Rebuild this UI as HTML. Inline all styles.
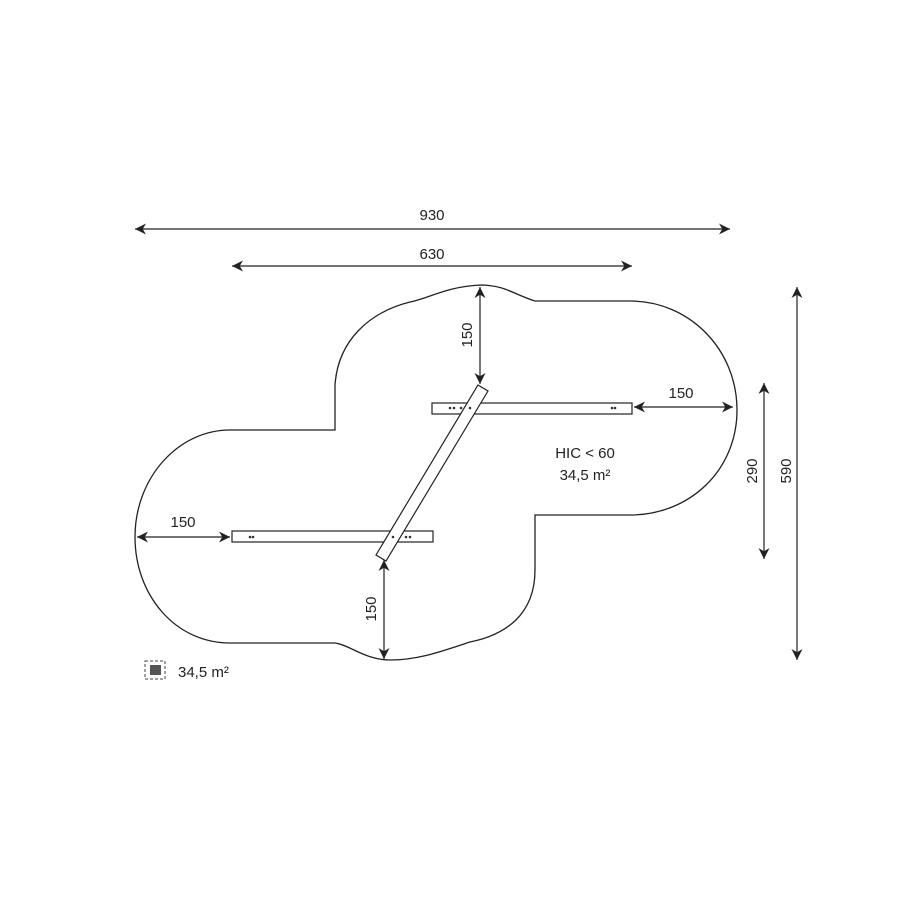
<!DOCTYPE html>
<html><head><style>
body{margin:0;background:#fff;}
svg{display:block}
text{font-family:"Liberation Sans",sans-serif;fill:#222;}
</style></head><body>
<svg width="900" height="900" viewBox="0 0 900 900" xmlns="http://www.w3.org/2000/svg">
<defs>
<marker id="a" viewBox="0 0 10 10" refX="10" refY="5" markerWidth="12" markerHeight="11" orient="auto-start-reverse" markerUnits="userSpaceOnUse">
<path d="M0,0 L10,5 L0,10 L3,5 Z" fill="#222"/>
</marker>
</defs>
<g stroke="#222" stroke-width="1.3" fill="none">
<path d="M335,430 L335,385 C338,340 370,312 410,302 C430,298 445,287 480,285 C505,285 515,295 535,301 L630,301 C690,301 737,350 737,410 C737,470 690,515 630,515 L535,515 L535,570 C535,615 505,635 470,642 C445,650 420,660 390,660 C365,660 350,645 335,643 L230,643 C175,643 135,595 135,537 C135,478 178,430 230,430 Z"/>
</g>
<g stroke="#222" stroke-width="1.2" fill="none" marker-start="url(#a)" marker-end="url(#a)">
<line x1="135" y1="229" x2="730" y2="229"/>
<line x1="232" y1="266" x2="632" y2="266"/>
<line x1="480" y1="287" x2="480" y2="384"/>
<line x1="634" y1="407" x2="733" y2="407"/>
<line x1="137" y1="537" x2="230" y2="537"/>
<line x1="384" y1="560" x2="384" y2="659"/>
<line x1="764" y1="383" x2="764" y2="559"/>
<line x1="797" y1="287" x2="797" y2="660"/>
</g>
<g stroke="#222" stroke-width="1.2" fill="#fff">
<rect x="432" y="403" width="200" height="11"/>
<rect x="232" y="531" width="201" height="11"/>
<polygon points="478,385 488,391 386,561 376,555"/>
</g>
<g fill="#333">
<circle cx="450" cy="408" r="1.3"/><circle cx="454" cy="408" r="1.3"/>
<circle cx="461" cy="408" r="1.3"/><circle cx="470" cy="408" r="1.3"/>
<circle cx="612" cy="408" r="1.3"/><circle cx="615" cy="408" r="1.3"/>
<circle cx="250" cy="537" r="1.3"/><circle cx="253" cy="537" r="1.3"/>
<circle cx="393" cy="537" r="1.3"/><circle cx="406" cy="537" r="1.3"/><circle cx="410" cy="537" r="1.3"/>
</g>
<text x="432" y="220" font-size="15" text-anchor="middle">930</text>
<text x="432" y="259" font-size="15" text-anchor="middle">630</text>
<text x="681" y="398" font-size="15" text-anchor="middle">150</text>
<text x="183" y="527" font-size="15" text-anchor="middle">150</text>
<text x="585" y="458" font-size="15" text-anchor="middle">HIC &lt; 60</text>
<text x="585" y="480" font-size="15" text-anchor="middle">34,5 m²</text>
<text transform="translate(472,335) rotate(-90)" font-size="15" text-anchor="middle">150</text>
<text transform="translate(376,609) rotate(-90)" font-size="15" text-anchor="middle">150</text>
<text transform="translate(757,471) rotate(-90)" font-size="15" text-anchor="middle">290</text>
<text transform="translate(791,471) rotate(-90)" font-size="15" text-anchor="middle">590</text>
<rect x="145" y="661" width="20" height="18" fill="none" stroke="#444" stroke-width="1" stroke-dasharray="3,2"/>
<rect x="150" y="665" width="11" height="10" fill="#555"/>
<text x="178" y="677" font-size="15">34,5 m²</text>
</svg>
</body></html>
